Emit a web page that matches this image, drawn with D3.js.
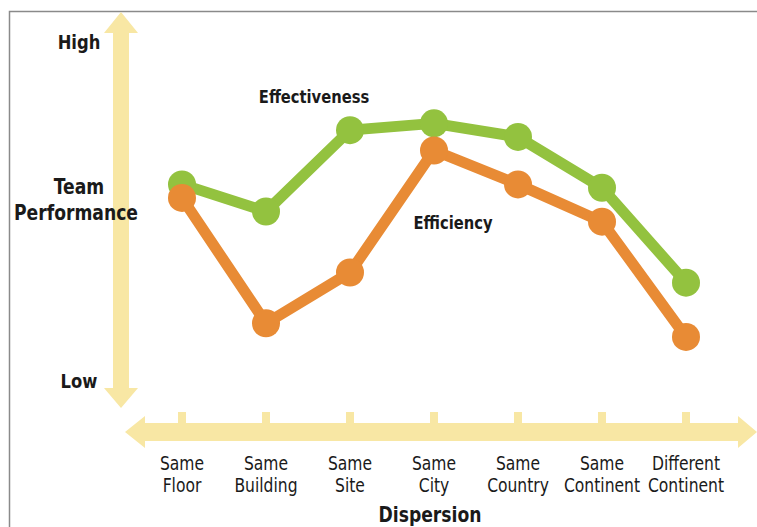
<!DOCTYPE html>
<html>
<head>
<meta charset="utf-8">
<script src="https://cdn.jsdelivr.net/npm/d3@7"></script>
<style>
  body { margin: 0; background: #fff; }
  text { font-family: "DejaVu Sans Condensed", "Roboto", sans-serif; fill: #1a1a1a; }
  .bold { font-weight: bold; }
</style>
</head>
<body>
<div id="chart"></div>
<script>
// categories on the dispersion axis (two text lines each)
var categories = ["Same Floor", "Same Building", "Same Site", "Same City", "Same Country", "Same Continent", "Different Continent"];
var catLines = [["Same", "Floor"], ["Same", "Building"], ["Same", "Site"], ["Same", "City"], ["Same", "Country"], ["Same", "Continent"], ["Different", "Continent"]];

// team performance, 0 = Low, 100 = High
var effectiveness = [58, 50, 74, 76, 72, 57, 29];
var efficiency = [54, 17, 32, 68, 58, 47, 13];

var width = 757, height = 527;

var svg = d3.select("#chart").append("svg")
    .attr("width", width)
    .attr("height", height);

var x = d3.scalePoint()
    .domain(categories)
    .range([182, 686]);

var y = d3.scaleLinear()
    .domain([0, 100])
    .range([381, 42]);

var yellow = "#f8e7a4";

// narrow text: the original uses a condensed face, so squeeze horizontally
function label(tx, ty, str, size, bold) {
  return svg.append("text")
      .attr("class", bold ? "bold" : null)
      .attr("transform", "translate(" + tx + "," + ty + ") scale(0.91,1)")
      .attr("text-anchor", "middle")
      .attr("font-size", size)
      .text(str);
}

// frame (only top and left edges are visible)
svg.append("path")
    .attr("d", "M9.5," + height + "V11.5H" + width)
    .attr("fill", "none")
    .attr("stroke", "#8a8a8a")
    .attr("stroke-width", 1.5);

// vertical double arrow
var ax = 121;
svg.append("path")
    .attr("d", "M" + ax + ",12 L" + (ax + 17) + ",33 L" + (ax + 8) + ",33 L" + (ax + 8) + ",388 L" + (ax + 17) + ",388 L" + ax + ",408 L" + (ax - 17) + ",388 L" + (ax - 8) + ",388 L" + (ax - 8) + ",33 L" + (ax - 17) + ",33 Z")
    .attr("fill", yellow);

// horizontal double arrow
var ay = 432;
svg.append("path")
    .attr("d", "M125," + ay + " L145," + (ay - 16) + " L145," + (ay - 9) + " L738," + (ay - 9) + " L738," + (ay - 16) + " L757," + ay + " L738," + (ay + 16) + " L738," + (ay + 9) + " L145," + (ay + 9) + " L145," + (ay + 16) + " Z")
    .attr("fill", yellow);

// ticks on the horizontal arrow
svg.append("g").selectAll("rect")
  .data(categories)
  .join("rect")
    .attr("x", d => x(d) - 4)
    .attr("y", ay - 20)
    .attr("width", 8)
    .attr("height", 12)
    .attr("fill", yellow);

// category labels
categories.forEach(function(c, i) {
  label(x(c), 470, catLines[i][0], 19, false);
  label(x(c), 492, catLines[i][1], 19, false);
});

label(430, 522, "Dispersion", 21, true);

// y axis labels
label(79, 49, "High", 20, true);
label(79, 388, "Low", 20, true);
label(79, 194, "Team", 21, true);
label(76, 220, "Performance", 21, true);

// series
var line = d3.line()
    .x((d, i) => x(categories[i]))
    .y(d => y(d));

var series = [
  { name: "Effectiveness", values: effectiveness, color: "#93c23f" },
  { name: "Efficiency", values: efficiency, color: "#e88b35" }
];

series.forEach(function(s) {
  var g = svg.append("g");
  g.append("path")
      .datum(s.values)
      .attr("d", line)
      .attr("fill", "none")
      .attr("stroke", s.color)
      .attr("stroke-width", 11)
      .attr("stroke-linejoin", "round");
  g.selectAll("circle")
    .data(s.values)
    .join("circle")
      .attr("cx", (d, i) => x(categories[i]))
      .attr("cy", d => y(d))
      .attr("r", 14)
      .attr("fill", s.color);
});

// series labels
label(314, 103, "Effectiveness", 18, true);
label(453, 229, "Efficiency", 18, true);
</script>
</body>
</html>
